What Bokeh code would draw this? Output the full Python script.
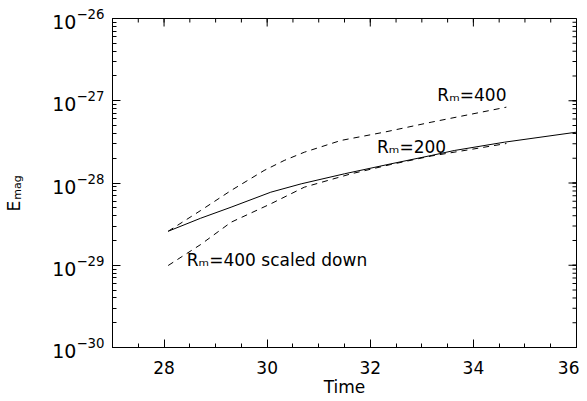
import math
from bokeh.plotting import figure
from bokeh.layouts import row, column
from bokeh.models import FixedTicker, Label, Range1d
from bokeh.embed import file_html
from bokeh.resources import INLINE

# ---- data ----
t_rm200 = [28.08, 28.71, 29.30, 30.07, 30.66, 31.50, 32.40, 33.18, 33.63, 34.60, 36.0]
e_rm200 = [2.59e-29, 3.73e-29, 5.08e-29, 7.73e-29, 9.77e-29, 1.294e-28, 1.710e-28,
           2.158e-28, 2.483e-28, 3.133e-28, 4.150e-28]

t_rm400 = [28.08, 28.71, 29.30, 29.94, 30.33, 30.72, 31.43, 32.27, 33.18, 34.64]
e_rm400 = [2.59e-29, 4.63e-29, 8.11e-29, 1.419e-28, 1.879e-28, 2.366e-28, 3.289e-28,
           4.150e-28, 5.483e-28, 8.356e-28]

t_rm400s = [28.08, 28.71, 29.30, 30.07, 30.72, 31.63, 32.40, 33.18, 34.64]
e_rm400s = [9.93e-30, 1.786e-29, 3.334e-29, 5.585e-29, 8.89e-29, 1.294e-28, 1.679e-28,
            2.128e-28, 3.020e-28]

x_lim = [27, 36]
y_lim = [1e-30, 1e-26]
x_major = [28, 30, 32, 34, 36]
x_minor = [27 + 0.5 * i for i in range(19)]
y_major = [1e-30, 1e-29, 1e-28, 1e-27, 1e-26]
y_minor = [k * d for d in [1e-30, 1e-29, 1e-28, 1e-27] for k in range(1, 11)]

labels = ["R\u2098=400", "R\u2098=200", "R\u2098=400 scaled down"]
label_t = [33.34, 32.17, 28.48]
label_e = [1.007e-27, 2.286e-28, 9.93e-30]

y_title = "E"
y_title_sub = "mag"

FONT = "DejaVu Sans"
FS = "17px"
TICK_W = 1
LW = 24  # width of the strip holding the y title


def title_strip(text, size, top, frame_h):
    """Narrow figure whose (rotated) left axis label carries one piece of the y title."""
    f = figure(frame_width=1, frame_height=frame_h, x_range=Range1d(0, 1),
               y_range=Range1d(0, 1), x_axis_location=None, y_axis_location="left",
               output_backend="svg", toolbar_location=None,
               min_border_left=LW - 1, min_border_right=0, min_border_top=top,
               min_border_bottom=0)
    f.grid.visible = False
    f.outline_line_color = None
    f.background_fill_color = "white"
    f.border_fill_color = "white"
    ax = f.yaxis[0]
    ax.ticker = FixedTicker(ticks=[])
    ax.axis_line_color = None
    ax.major_tick_line_color = None
    ax.minor_tick_line_color = None
    ax.major_tick_in = 0
    ax.major_tick_out = 0
    ax.minor_tick_in = 0
    ax.minor_tick_out = 0
    ax.major_label_standoff = 0
    ax.axis_label = text
    ax.axis_label_standoff = 0
    ax.axis_label_text_font = FONT
    ax.axis_label_text_font_size = size
    ax.axis_label_text_font_style = "normal"
    ax.axis_label_text_color = "black"
    return f

fe_sub = title_strip(y_title_sub, "11px", 175, 24)   # "mag", centred near y=187
fe_main = title_strip(y_title, FS, 0, 13)             # "E", just below it

# ---- main plot ----
p = figure(frame_width=464, frame_height=329,
           x_range=Range1d(*x_lim), y_range=Range1d(*y_lim),
           y_axis_type="log", output_backend="svg", toolbar_location=None,
           min_border_left=112 - LW, min_border_top=18, min_border_right=3,
           min_border_bottom=0)
p.grid.visible = False
p.outline_line_color = "black"
p.background_fill_color = "white"
p.border_fill_color = "white"

def style_axis(ax):
    ax.axis_line_color = "black"
    ax.major_tick_line_color = "black"
    ax.minor_tick_line_color = "black"
    ax.major_tick_line_width = TICK_W
    ax.minor_tick_line_width = TICK_W
    ax.major_tick_in = 8
    ax.major_tick_out = 0
    ax.minor_tick_in = 4
    ax.minor_tick_out = 0
    ax.major_label_text_font = FONT
    ax.major_label_text_color = "black"
    ax.axis_label_text_font = FONT
    ax.axis_label_text_font_style = "normal"
    ax.axis_label_text_color = "black"

xa = p.xaxis[0]
xa.ticker = FixedTicker(ticks=x_major, minor_ticks=x_minor)
style_axis(xa)
xa.major_label_text_font_size = FS
xa.major_label_standoff = 13
xa.axis_label = "Time"
xa.axis_label_text_font_size = FS
xa.axis_label_standoff = 0

ya = p.yaxis[0]
ya.ticker = FixedTicker(ticks=y_major, minor_ticks=y_minor)
style_axis(ya)
ya.major_label_text_font_size = "19px"
ya.major_label_standoff = 8

# mirrored inward ticks on the top and right frame edges
p.ray(x=x_major, y=[y_lim[1]] * len(x_major), length=8, length_units="screen",
      angle=-math.pi / 2, line_color="black", line_width=TICK_W)
p.ray(x=x_minor, y=[y_lim[1]] * len(x_minor), length=4, length_units="screen",
      angle=-math.pi / 2, line_color="black", line_width=TICK_W)
p.ray(x=[x_lim[1]] * len(y_major), y=y_major, length=8, length_units="screen",
      angle=math.pi, line_color="black", line_width=TICK_W)
p.ray(x=[x_lim[1]] * len(y_minor), y=y_minor, length=4, length_units="screen",
      angle=math.pi, line_color="black", line_width=TICK_W)

p.line(t_rm200, e_rm200, line_color="black", line_width=1)
p.line(t_rm400, e_rm400, line_color="black", line_width=1, line_dash="6 5")
p.line(t_rm400s, e_rm400s, line_color="black", line_width=1, line_dash="6 5")

for txt, tx, ey in zip(labels, label_t, label_e):
    p.add_layout(Label(x=tx, y=ey, text=txt, text_font=FONT, text_font_size=FS,
                       text_color="black", text_align="left",
                       text_baseline="alphabetic", x_offset=-2, y_offset=6))

layout = row(column(fe_sub, fe_main, spacing=0), p, spacing=0)
open("out.html", "w").write(file_html(layout, INLINE))
